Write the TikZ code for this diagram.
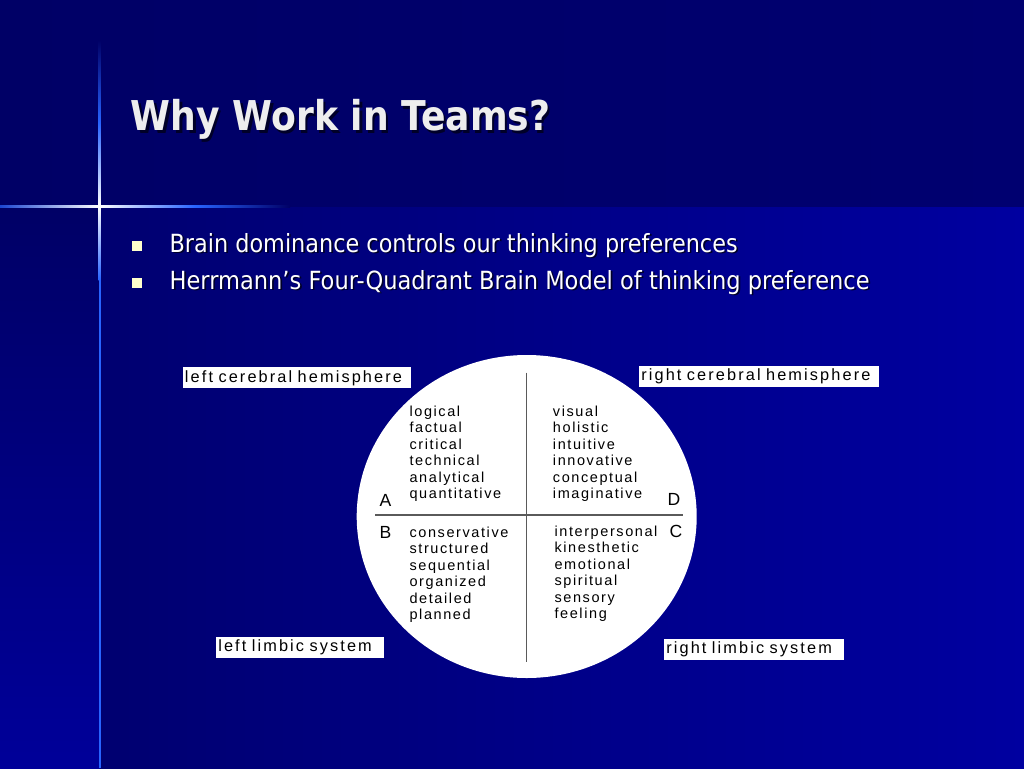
\documentclass[tikz,border=0pt]{standalone}
\usepackage{graphicx}
\usepackage{fontspec}
\setmainfont{Liberation Sans}
\newfontfamily\slidefont{DejaVu Sans}
\usetikzlibrary{positioning}
\definecolor{navytop}{RGB}{0,0,102}
\definecolor{navyright}{RGB}{0,0,112}
\definecolor{panelleft}{RGB}{0,0,112}
\definecolor{panelright}{RGB}{0,0,160}
\definecolor{stripbottom}{RGB}{0,0,153}
\definecolor{glowblue}{RGB}{40,100,255}
\definecolor{bulletcream}{RGB}{255,255,204}
\definecolor{titlegray}{RGB}{238,238,238}
\definecolor{shadowblue}{RGB}{0,0,40}
\definecolor{divider}{RGB}{90,90,90}
\begin{document}
\begin{tikzpicture}[
		x=0.25mm, y=-0.25mm,
		title/.style={anchor=base west, inner sep=0pt, font=\slidefont\bfseries\fontsize{29.2}{34}\selectfont},
		btext/.style={anchor=base west, inner sep=0pt, font=\slidefont\fontsize{17.8}{21}\selectfont},
		bullet/.style={fill=bulletcream, inner sep=0pt, minimum size=2.5mm},
		quad/.style={anchor=base west, inner sep=0pt, font=\fontsize{10.3}{12}\selectfont\addfontfeature{LetterSpace=11}},
		corner/.style={anchor=base west, inner sep=0pt, font=\fontsize{12.5}{14}\selectfont},
		lbl/.style={anchor=north west, fill=white, align=left, inner xsep=0.5mm, inner ysep=0pt, minimum height=5.25mm,
			font=\fontsize{11.6}{13}\selectfont\addfontfeature{LetterSpace=13}}
	]
	\useasboundingbox (0,0) rectangle (1024,768);
	\shade[left color=navytop, right color=navyright] (0,0) rectangle (1024,207);
	\shade[left color=panelleft, right color=panelright] (100,207) rectangle (1024,768);
	\shade[top color=navytop, bottom color=stripbottom] (0,207) rectangle (100,768);

	\shade[top color=navytop, bottom color=white, middle color=glowblue] (98.5,40) rectangle (100.5,206);
	\shade[top color=white, bottom color=glowblue] (98.5,206) rectangle (100.5,280);
	\fill[glowblue] (98.5,280) rectangle (100.5,768);
	\shade[left color=glowblue!70!navytop, right color=white] (0,205) rectangle (99.5,207.5);
	\shade[left color=white, right color=navytop, middle color=glowblue] (99.5,205) rectangle (290,207.5);

	\node[title, text=shadowblue] (t-shadow) at (133,133) {\resizebox{104.9mm}{\height}{Why Work in Teams?}};
	\node[title, text=titlegray] (t) at (130.6,130) {\resizebox{104.9mm}{\height}{Why Work in Teams?}};

	\node[bullet] (sq1) at (136.8,245.7) {};
	\node[bullet] (sq2) at (136.8,282.5) {};
	\node[btext, text=shadowblue] (b1-shadow) at (171,253.5) {\resizebox{142mm}{\height}{Brain dominance controls our thinking preferences}};
	\node[btext, text=white] (b1) at (169.3,252) {\resizebox{142mm}{\height}{Brain dominance controls our thinking preferences}};
	\node[btext, text=shadowblue] (b2-shadow) at (171,290.5) {\resizebox{175mm}{\height}{Herrmann’s Four-Quadrant Brain Model of thinking preference}};
	\node[btext, text=white] (b2) at (169.3,289) {\resizebox{175mm}{\height}{Herrmann’s Four-Quadrant Brain Model of thinking preference}};

	\fill[white] (526.7,516.5) ellipse [x radius=170, y radius=161.5];
	\coordinate (v-top) at (526.7,372.7);
	\coordinate (v-bottom) at (526.7,661.7);
	\coordinate (h-left) at (375,515);
	\coordinate (h-right) at (683,515);
	\draw[divider, line width=0.3mm] (v-top) -- (v-bottom);
	\draw[divider, line width=0.3mm] (h-left) -- (h-right);

	\foreach \w [count=\i from 0] in {logical,factual,critical,technical,analytical,quantitative}
		\node[quad] (qa\i) at (409.3,416+16.5*\i) {\w};
	\foreach \w [count=\i from 0] in {visual,holistic,intuitive,innovative,conceptual,imaginative}
		\node[quad] (qd\i) at (552.7,416+16.5*\i) {\w};
	\foreach \w [count=\i from 0] in {conservative,structured,sequential,organized,detailed,planned}
		\node[quad] (qb\i) at (409.3,537+16.5*\i) {\w};
	\foreach \w [count=\i from 0] in {interpersonal,kinesthetic,emotional,spiritual,sensory,feeling}
		\node[quad] (qc\i) at (554.3,536+16.5*\i) {\w};

	\node[corner] (A) at (379.3,506) {A};
	\node[corner] (D) at (667.3,505.3) {D};
	\node[corner] (B) at (379.3,538.3) {B};
	\node[corner] (C) at (669.3,537.3) {C};

	\node[lbl, text width=56mm] (lch) at (182.7,367) {left cerebral hemisphere};
	\node[lbl, text width=58.9mm] (rch) at (639,365.5) {right cerebral hemisphere};
	\node[lbl, text width=41mm] (lls) at (216,636.5) {left limbic system};
	\node[lbl, text width=44mm] (rls) at (664,638.5) {right limbic system};
\end{tikzpicture}
\end{document}
